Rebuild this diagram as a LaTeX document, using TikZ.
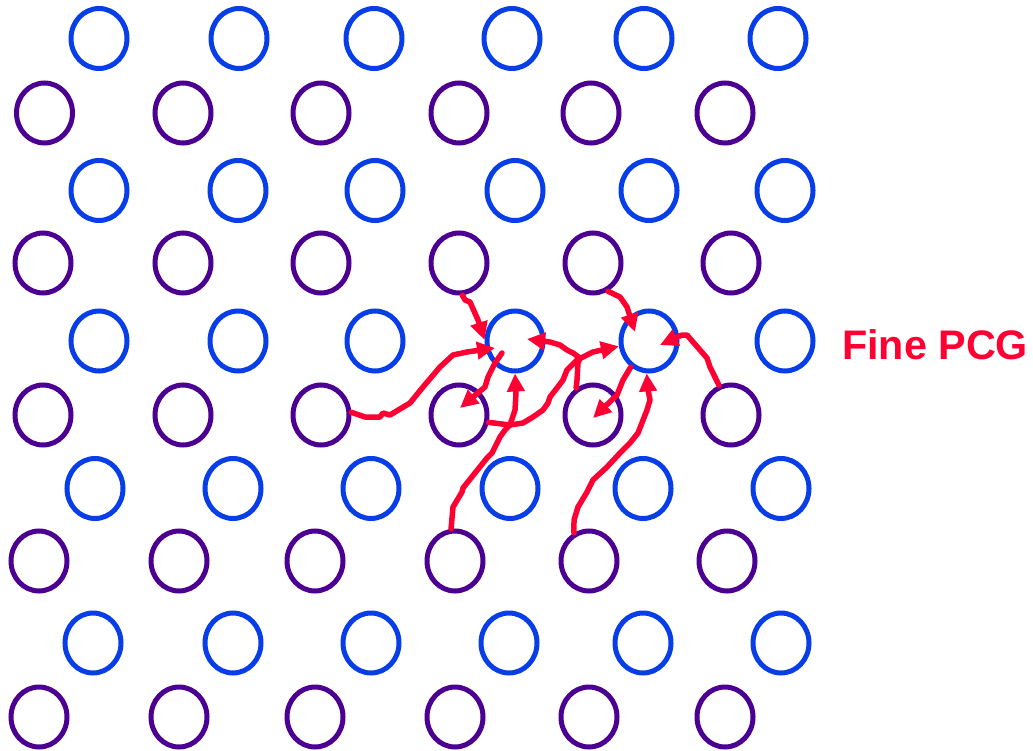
\documentclass[tikz,border=0pt]{standalone}
\usepackage{fontspec}
\setmainfont{Liberation Sans}
\usetikzlibrary{shapes.geometric,arrows.meta,calc}
\definecolor{ringblue}{RGB}{8,62,232}
\definecolor{ringpurple}{RGB}{76,0,146}
\definecolor{pcgred}{RGB}{255,0,51}
\begin{document}
\begin{tikzpicture}[x=1pt,y=-1pt,
  ring/.style={ellipse,draw,line width=5pt,minimum width=56pt,minimum height=60pt,inner sep=0pt},
  bring/.style={ring,draw=ringblue},
  pring/.style={ring,draw=ringpurple},
  flow/.style={draw=pcgred,line width=5.5pt,line join=round,line cap=round,-{Triangle[length=18pt,width=17pt]}}]
\useasboundingbox (0,0) rectangle (1033,751);
\foreach \r/\y/\s/\xs in {
  1/38.5/bring/{99,239,374,512,644,778},
  2/113/pring/{44.5,183,321,459,591,725},
  3/190.5/bring/{99,238,375,515,649,785},
  4/263/pring/{43,183,321,459,593,731},
  5/341/bring/{99,238,375,515,649,785},
  6/415/pring/{43,183,321,459,593,731},
  7/488.5/bring/{95,233,371,510,643,781},
  8/561/pring/{39,179,315,455,589,727},
  9/643/bring/{93,233,371,509,643,781},
  10/717/pring/{39,179,315,455,589,725}}{
  \foreach \x [count=\c] in \xs {
    \node[\s] (n-\r-\c) at (\x,\y) {};
  }
}
\node[anchor=base west,text=pcgred,font=\fontsize{41.3}{49}\selectfont\bfseries,inner sep=0pt] (label) at (842,359) {Fine PCG};
% A
\draw[flow] (n-4-4.-84) -- (465,300) -- (470,302) -- (478,320) -- (n-5-4.178);
% B
\draw[flow] (n-6-3.5) -- (365,417) -- (380,417) -- (383,413) -- (390,415) -- (410,403) -- (423,387) -- (440,367) -- (453,355) -- (467,352) -- ($(n-5-4)+(-20,7)$);
% C
\draw[flow] ($(n-5-4)+(-13,12)$) -- (495,363) -- (488,377) -- (485,387) -- ($(n-6-4)+(1,-7)$);
% D
\draw[flow] (n-6-4.-14) -- (510,425) -- (523,423) -- (533,417) -- (543,410) -- (548,403) -- (550,397) -- (557,388) -- (563,380) -- (567,370) -- (577,360) -- (593,352) -- (n-5-5.190);
% E
\draw[flow] (n-8-4.97) -- (453,507) -- (462,492) -- (463,488) -- (475,473) -- (487,458) -- (492,453) -- (500,437) -- (505,430) -- (510,425) -- (515,410) -- (516,393) -- (n-5-4.south);
% F
\draw[flow] (n-6-5.122) -- (577,380) -- (578,363) -- (580,358) -- (573,353) -- (567,350) -- (560,345) -- (550,342) -- ($(n-5-4)+(12,-2)$);
% G
\draw[flow] (n-4-5.-62) -- (620,297) -- (627,307) -- ($(n-5-5)+(-14,-9)$);
% H
\draw[flow] (n-5-5.-125) -- (623,380) -- (617,395) -- ($(n-6-5)+(0,3)$);
% I
\draw[flow] (n-8-5.118) -- (574,520) -- (578,507) -- (587,492) -- (593,480) -- (607,467) -- (620,453) -- (630,443) -- (638,433) -- (647,410) -- (650,400) -- (648,390) -- (n-5-5.-94);
% J
\draw[flow] (n-6-6.112) -- (710,367) -- (707,358) -- (693,342) -- (687,335) -- (682,335) -- ($(n-5-5)+(11,4)$);
\end{tikzpicture}
\end{document}
